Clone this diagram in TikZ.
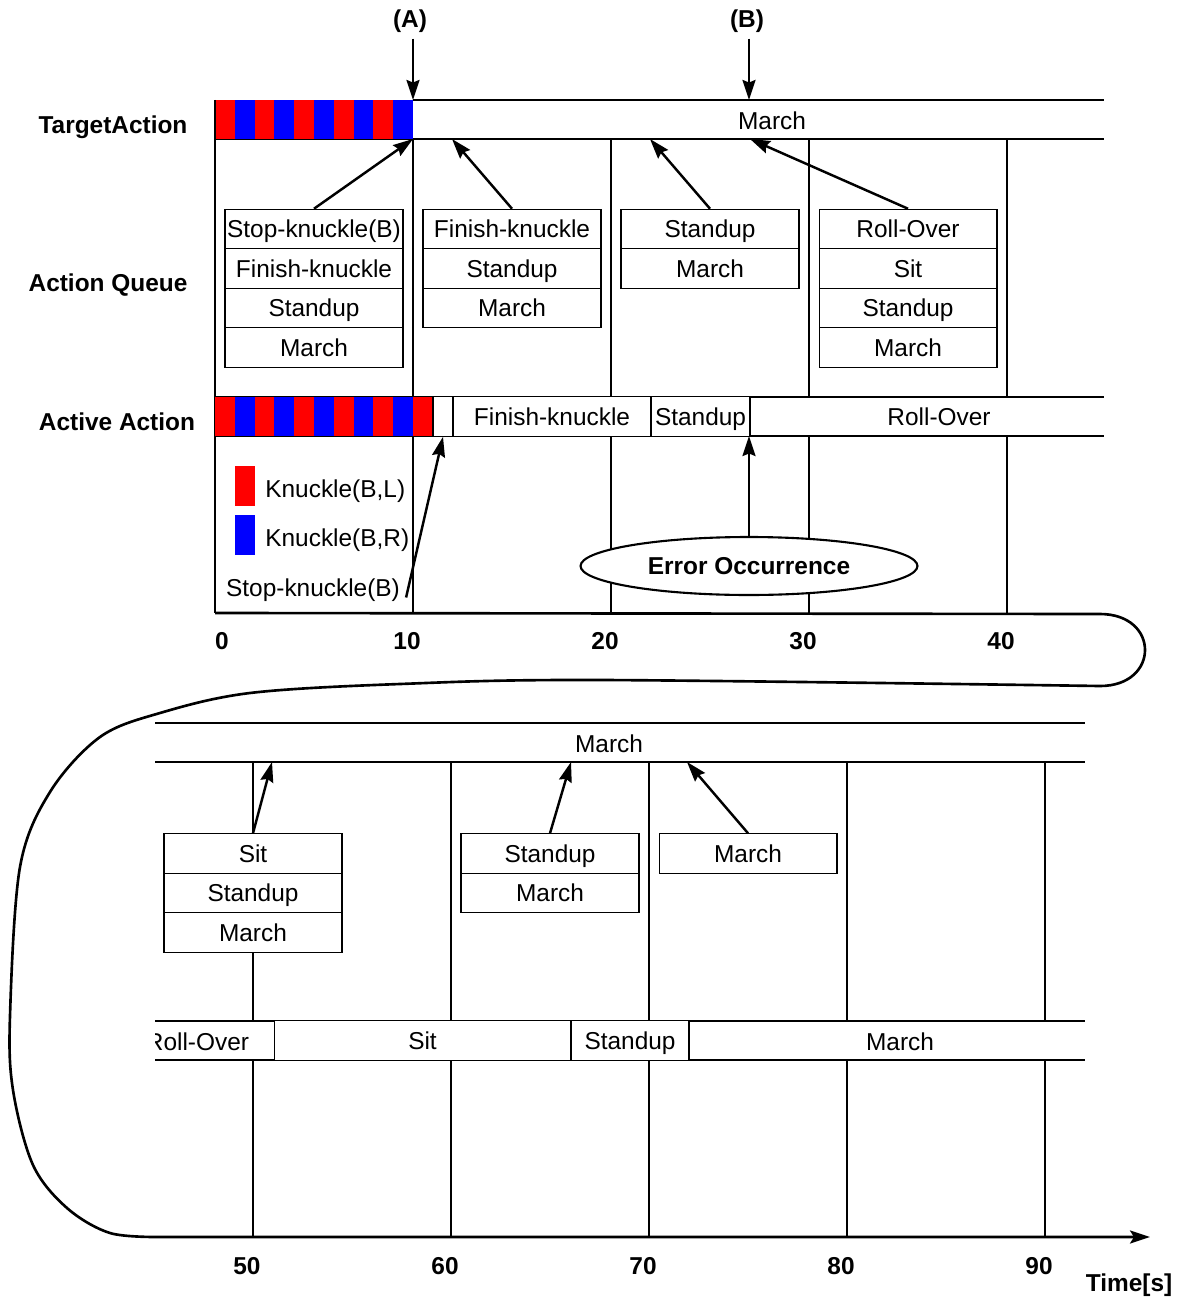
\documentclass[tikz,border=0pt]{standalone}
\usepackage{fontspec}
\setmainfont{Liberation Sans}
\usetikzlibrary{arrows.meta,shapes.geometric}
\newcommand\txt{\fontsize{13.9pt}{16pt}\selectfont}

\begin{document}
\begin{tikzpicture}[x=0.02cm, y=-0.02cm,
  cell/.style={draw, fill=white, line width=0.6pt, minimum width=3.56cm, minimum height=0.79cm, inner sep=0pt, text height=12.5pt, text depth=2.5pt, font=\txt},
  seg/.style={draw, fill=white, line width=0.6pt, minimum height=0.79cm, inner sep=0pt, text height=12.5pt, text depth=2.5pt, font=\txt},
  lbl/.style={font=\txt\bfseries},
  grid/.style={line width=0.6pt},
  arr/.style={line width=1.4pt, -{Stealth[length=4mm, width=2.6mm, inset=0.5mm]}},
  timeline/.style={line width=1.5pt}]
  \useasboundingbox (0,0) rectangle (1181,1301);
  % grid lines
  \foreach \x in {413,611,809,1007} \draw[grid] (\x,139) -- (\x,613);
  \foreach \x in {253,451,649,847,1045} \draw[grid] (\x,762) -- (\x,1237);

  % target action (first half)
  \fill[white] (413,100) rectangle (1104,139);
  \draw[grid] (413,100) -- (1104,100) (215,139) -- (1104,139);
  \foreach \i in {0,2,...,8} \fill[red] ({215+19.8*\i},100) rectangle ({215+19.8*(\i+1)},139);
  \foreach \i in {1,3,...,9} \fill[blue] ({215+19.8*\i},100) rectangle ({215+19.8*(\i+1)},139);
  \node[font=\txt] (tgtM) at (772,121) {March};
  \draw[line width=1pt] (215,100) -- (215,613);

  \node[lbl] (rowT) at (113,127) {TargetAction};
  \node[lbl] (rowQ) at (108,285) {Action Queue};
  \node[lbl] (rowA) at (117,422) {Active Action};

  \node[lbl] (lblA) at (410,21) {(A)};
  \node[lbl] (lblB) at (747,21) {(B)};
  \coordinate (pA) at (413,100);
  \coordinate (pB) at (749,100);
  \draw[arr] (lblA.south -| pA) -- (pA);
  \draw[arr] (lblB.south -| pB) -- (pB);

  % action queue (first half)
  \node[cell] (q1a) at (314,229) {Stop-knuckle(B)};
  \node[cell] (q1b) at (314,268.5) {Finish-knuckle};
  \node[cell] (q1c) at (314,308) {Standup};
  \node[cell] (q1d) at (314,347.5) {March};
  \node[cell] (q2a) at (512,229) {Finish-knuckle};
  \node[cell] (q2b) at (512,268.5) {Standup};
  \node[cell] (q2c) at (512,308) {March};
  \node[cell] (q3a) at (710,229) {Standup};
  \node[cell] (q3b) at (710,268.5) {March};
  \node[cell] (q4a) at (908,229) {Roll-Over};
  \node[cell] (q4b) at (908,268.5) {Sit};
  \node[cell] (q4c) at (908,308) {Standup};
  \node[cell] (q4d) at (908,347.5) {March};

  \coordinate (t1) at (413,139);
  \coordinate (t2) at (452,139);
  \coordinate (t3) at (650,139);
  \coordinate (t4) at (750,139);
  \draw[arr] (q1a.north) -- (t1);
  \draw[arr] (q2a.north) -- (t2);
  \draw[arr] (q3a.north) -- (t3);
  \draw[arr] (q4a.north) -- (t4);

  % active action (first half)
  \fill[white] (215,397) rectangle (1104,436);
  \draw[grid] (215,397) -- (1104,397) (215,436) -- (1104,436);
  \foreach \i in {0,2,...,10} \fill[red] ({215+19.8*\i},397) rectangle ({215+19.8*(\i+1)},436);
  \foreach \i in {1,3,...,9} \fill[blue] ({215+19.8*\i},397) rectangle ({215+19.8*(\i+1)},436);
  \node[seg, minimum width=0.4cm] (ak) at (443,416.5) {};
  \node[seg, minimum width=3.96cm] (afk) at (552,416.5) {Finish-knuckle};
  \node[seg, minimum width=1.98cm] (ast) at (700.5,416.5) {Standup};
  \node[font=\txt] (aro) at (939,417) {Roll-Over};

  % legend
  \node[fill=red, minimum width=0.4cm, minimum height=0.8cm, inner sep=0pt] (legL) at (245,486) {};
  \node[fill=blue, minimum width=0.4cm, minimum height=0.8cm, inner sep=0pt] (legR) at (245,535) {};
  \node[font=\txt, anchor=west, inner sep=0pt] (legLt) at (265,491) {Knuckle(B,L)};
  \node[font=\txt, anchor=west, inner sep=0pt] (legRt) at (265,540) {Knuckle(B,R)};
  \node[font=\txt] (stopk) at (313,590) {Stop-knuckle(B)};
  \draw[arr] ([yshift=-0.15cm]stopk.east) -- (ak.south);

  \node[draw, fill=white, ellipse, line width=1.2pt, minimum width=6.74cm, minimum height=1.16cm, inner sep=0pt, lbl] (err) at (749,566) {Error Occurrence};
  \coordinate (ae) at (749,436);
  \draw[arr] (err.north) -- (ae);

  % time axis
  \draw[timeline, -{Stealth[length=4mm, width=2.6mm, inset=0.8mm]}] (215,613) -- (1100,614)
    .. controls (1160,614) and (1160,686) .. (1100,686)
    -- plot[smooth, tension=0.55] coordinates {(1100,686) (600,680) (400,684) (250,693) (160,713) (100,737) (50,792) (20,867) (10,1016) (13,1090) (33,1165) (67,1208) (110,1233) (160,1237)}
    -- (1150,1237);
  \foreach \t/\x in {0/222,10/407,20/605,30/803,40/1001} \node[lbl] (tk\t) at (\x,641) {\t};
  \foreach \t/\x in {50/247,60/445,70/643,80/841,90/1039} \node[lbl] (tk\t) at (\x,1266) {\t};
  \node[lbl] (tunit) at (1129,1285) {Time[s]};

  % target action (second half)
  \draw[grid] (155,723) -- (1085,723) (155,762) -- (1085,762);
  \node[font=\txt] (tgtM2) at (609,744) {March};

  % action queue (second half)
  \node[cell] (q5a) at (253,853.5) {Sit};
  \node[cell] (q5b) at (253,893) {Standup};
  \node[cell] (q5c) at (253,932.5) {March};
  \node[cell] (q6a) at (550,853.5) {Standup};
  \node[cell] (q6b) at (550,893) {March};
  \node[cell] (q7a) at (748,853.5) {March};

  \coordinate (t5) at (272,762);
  \coordinate (t6) at (571,762);
  \coordinate (t7) at (687,762);
  \draw[arr] (q5a.north) -- (t5);
  \draw[arr] (q6a.north) -- (t6);
  \draw[arr] (q7a.north) -- (t7);

  % active action (second half)
  \fill[white] (155,1021) rectangle (1085,1060);
  \draw[grid] (155,1021) -- (1085,1021) (155,1060) -- (1085,1060);
  \begin{scope}
    \clip (155,1000) rectangle (280,1080);
    \node[font=\txt] (aro2) at (197.5,1042) {Roll-Over};
  \end{scope}
  \node[seg, minimum width=5.94cm] (asit) at (422.5,1040.5) {Sit};
  \node[seg, minimum width=2.36cm] (ast2) at (630,1040.5) {Standup};
  \node[font=\txt] (amar) at (900,1042) {March};
\end{tikzpicture}
\end{document}
